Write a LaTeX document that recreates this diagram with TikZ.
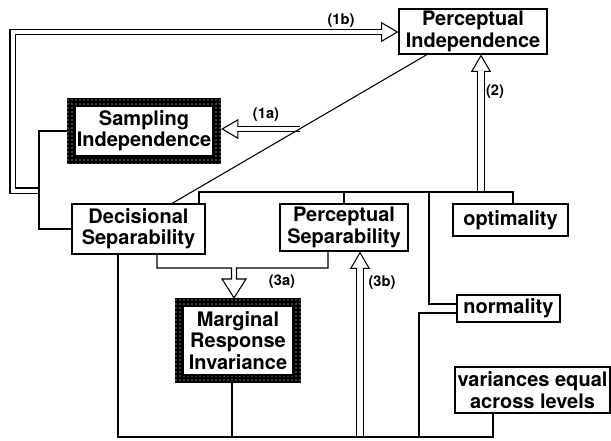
\documentclass[tikz,border=0pt]{standalone}
\usepackage{fontspec}
\setmainfont{TeX Gyre Heros}
\usepackage{tikz}
\usetikzlibrary{arrows.meta,calc,fit,patterns,backgrounds,positioning}

\tikzset{
  box/.style={draw, fill=white, align=center, inner sep=0pt, font=\bfseries\fontsize{15}{16}\selectfont},
  frame/.style={fill=black, postaction={pattern=dots, pattern color=white}, inner sep=5.5pt},
  lbl/.style={font=\bfseries\fontsize{11}{12}\selectfont},
  hollowtip/.style={-{Triangle[open, fill=white, length=13pt, width=15pt]}},
  hollow/.style={double, double distance=3pt, shorten >=12pt},
}

\begin{document}
\begin{tikzpicture}[x=0.75pt, y=-0.75pt, line width=0.8pt]
\useasboundingbox (0,0) rectangle (611,440);

% boites
\node[box, minimum width=111pt, minimum height=33.75pt] (PI) at (473,31.5) {Perceptual\\Independence};
\node[box, minimum width=103.5pt, minimum height=37.5pt] (SI) at (144,131) {Sampling\\Independence};
\node[box, minimum width=99.75pt, minimum height=37.5pt] (DS) at (138.5,229) {Decisional\\Separability};
\node[box, minimum width=96pt, minimum height=35.25pt] (PS) at (344,227.5) {Perceptual\\Separability};
\node[box, minimum width=86.25pt, minimum height=24pt] (OPT) at (510.5,220) {optimality};
\node[box, minimum width=77.25pt, minimum height=20.25pt] (NOR) at (508.5,308.5) {normality};
\node[box, minimum width=116.25pt, minimum height=34.5pt] (VAR) at (532.5,390) {variances equal\\across levels};
\node[box, minimum width=82.5pt, minimum height=51.75pt] (MRI) at (238,340.5) {Marginal\\Response\\Invariance};

% cadres epais
\begin{scope}[on background layer]
\node[frame, fit=(SI)] (SIf) {};
\node[frame, fit=(MRI)] (MRIf) {};
\end{scope}

% diagonale
\coordinate (dA) at ($(DS.north)+(33.5,0)$);
\coordinate (dB) at ($(PI.south)+(-46,0)$);
\coordinate (dM) at ($(dA)!0.5!(dB)$);

% fleches creuses
\coordinate (cl) at (39,190.5);
\coordinate (lp) at (12.5,32);
\draw[hollowtip] (cl) -| (lp) -- (lp -| PI.west);
\draw[hollow] (cl) -| (lp) -- (lp -| PI.west);

\draw[hollowtip] (dM) -- (dM -| SIf.east);
\draw[hollow] (dM) -- (dM -| SIf.east);

\coordinate (t2) at (481,192);
\draw[hollowtip] (t2) -- (t2 |- PI.south);
\draw[hollow, double distance=4.5pt] (t2) -- (t2 |- PI.south);

\coordinate (b3) at (360,437);
\draw[hollowtip] (b3) -- (b3 |- PS.south);
\draw[hollow, double distance=4.5pt] (b3) -- (b3 |- PS.south);

% (3a)
\coordinate (a3) at ($(MRIf.north)+(-4,0)$);
\draw ($(DS.south)+(18.5,0)$) |- (231.5,268) -- (231.5,279) -- (222,279) -- (a3)
      -- (246,279) -- (236.5,279) -- (236.5,268) -| ($(PS.south)+(-16,0)$);

% liaisons
\draw (dA) -- (dB);
\draw (SIf.west) -- (SIf.west -| cl) -- (DS.west -| cl) -- (DS.west);

\coordinate (tl) at (199,192);
\coordinate (tr) at (513,192);
\coordinate (tm) at (429,192);
\draw (DS.north -| tl) -- (tl) -- (tr) -- (OPT.north -| tr);
\draw (PS.north) -- (PS.north |- tl);
\draw[line width=1.5pt] (tm) |- ($(NOR.west)+(0,-4.5)$);

\coordinate (bl) at (118,437);
\coordinate (br) at (493,437);
\coordinate (nb) at (419,437);
\coordinate (mb) at ($(MRIf.south)+(-6,0)$);
\draw (DS.south -| bl) -- (bl) -- (br) -- (VAR.south -| br);
\draw (mb) -- (mb |- bl);
\draw ($(NOR.west)+(0,4.5)$) -| (nb);

% etiquettes
\node[lbl] (l1a) at (266,115) {(1a)};
\node[lbl] (l1b) at (341,21) {(1b)};
\node[lbl] (l2) at (495,92) {(2)};
\node[lbl] (l3a) at (282,282) {(3a)};
\node[lbl] (l3b) at (382,283) {(3b)};

\end{tikzpicture}
\end{document}
